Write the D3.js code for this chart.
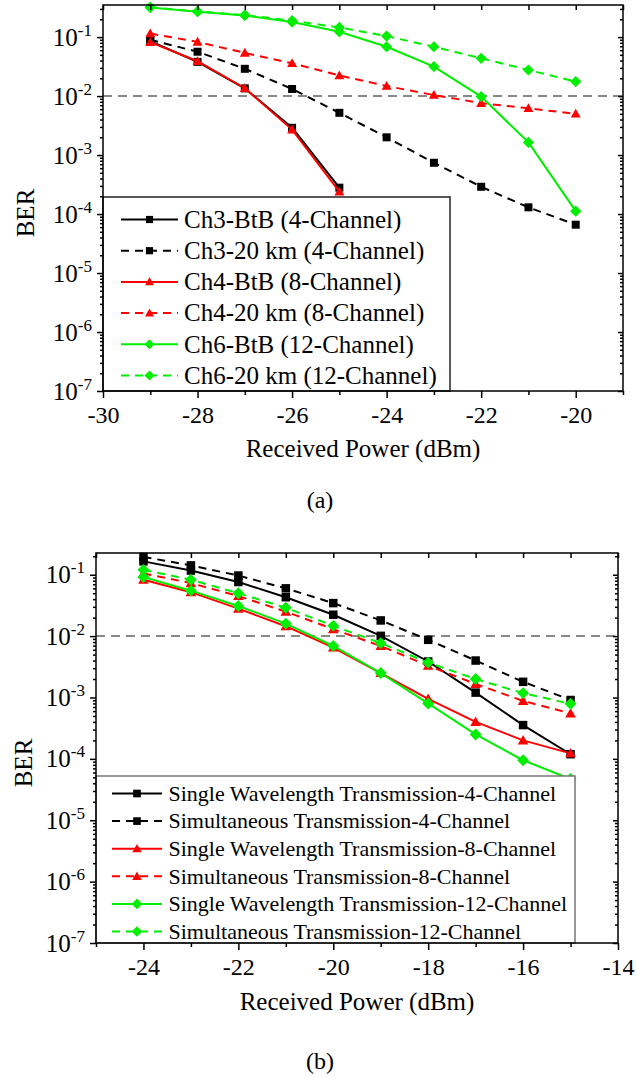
<!DOCTYPE html>
<html>
<head>
<meta charset="utf-8">
<style>
body{margin:0;background:#fff;}
svg{display:block;}
text{font-family:'Liberation Serif','Times New Roman','DejaVu Serif',serif;}
</style>
</head>
<body>
<script src="https://cdnjs.cloudflare.com/ajax/libs/d3/7.8.5/d3.min.js"></script>
<script>
// panel (a) data
var powerA = [-29,-28,-27,-26,-25,-24,-23,-22,-21,-20]
var ch3BtB = [0.085, 0.038, 0.0135, 0.0029, 0.00028]
var ch3Km  = [0.09, 0.0565, 0.029, 0.0132, 0.0052, 0.0020, 0.00074, 0.00029, 0.00013, 0.000066]
var ch4BtB = [0.082, 0.039, 0.0136, 0.0027, 0.00024]
var ch4Km  = [0.115, 0.083, 0.054, 0.036, 0.0224, 0.0148, 0.0104, 0.0076, 0.0062, 0.005]
var ch6BtB = [0.318, 0.27, 0.233, 0.18, 0.123, 0.0686, 0.0316, 0.0098, 0.00164, 0.000112]
var ch6Km  = [0.32, 0.272, 0.236, 0.19, 0.146, 0.104, 0.0686, 0.0437, 0.0277, 0.0176]
var labelsA = ['Ch3-BtB (4-Channel)','Ch3-20 km (4-Channel)','Ch4-BtB (8-Channel)',
  'Ch4-20 km (8-Channel)','Ch6-BtB (12-Channel)','Ch6-20 km (12-Channel)']
var xTicksA = [-30,-28,-26,-24,-22,-20]

// panel (b) data
var powerB = [-24,-23,-22,-21,-20,-19,-18,-17,-16,-15]
var single4  = [0.165, 0.117, 0.076, 0.043, 0.0223, 0.0101, 0.00386, 0.0012, 0.000355, 0.000119]
var simul4   = [0.195, 0.142, 0.097, 0.06, 0.0345, 0.018, 0.0087, 0.004, 0.0018, 0.00091]
var single8  = [0.083, 0.052, 0.028, 0.0145, 0.0065, 0.0025, 0.00095, 0.0004, 0.0002, 0.000123]
var simul8   = [0.105, 0.073, 0.045, 0.025, 0.013, 0.0069, 0.0033, 0.00166, 0.00088, 0.00055]
var single12 = [0.092, 0.055, 0.031, 0.016, 0.0069, 0.0025, 0.0008, 0.00025, 0.000095, 0.000047]
var simul12  = [0.12, 0.083, 0.05, 0.029, 0.0147, 0.0077, 0.0037, 0.002, 0.00118, 0.00079]
var labelsB = ['Single Wavelength Transmission-4-Channel','Simultaneous Transmission-4-Channel',
  'Single Wavelength Transmission-8-Channel','Simultaneous Transmission-8-Channel',
  'Single Wavelength Transmission-12-Channel','Simultaneous Transmission-12-Channel']
var xTicksB = [-24,-22,-20,-18,-16,-14]

var yDecades = [1e-7,1e-6,1e-5,1e-4,1e-3,1e-2,1e-1]
var fecLimit = 1e-2

var green = '#00ee00'
var styles = [
  {color:'#000', dash:null, shape:'square'},
  {color:'#000', dash:'8,6', shape:'square'},
  {color:'#ff0000', dash:null, shape:'triangle'},
  {color:'#ff0000', dash:'8,6', shape:'triangle'},
  {color:green, dash:null, shape:'diamond'},
  {color:green, dash:'8,6', shape:'diamond'}
]

var svg = d3.select('body').append('svg').attr('width',637).attr('height',1077)

function marker(shape, s) {
  if (shape == 'square') return 'M'+(-s/2)+','+(-s/2)+'h'+s+'v'+s+'h'+(-s)+'Z'
  if (shape == 'triangle') { var h = s*1.05; return 'M0,'+(-h*0.6)+'L'+(s*0.62)+','+(h*0.45)+'L'+(-s*0.62)+','+(h*0.45)+'Z' }
  var d = s*0.7
  return 'M0,'+(-d)+'L'+d+',0L0,'+d+'L'+(-d)+',0Z'
}

function drawPanel(p) {
  var g = svg.append('g')
  var x = d3.scaleLinear().domain(p.xDomain).range([p.left, p.right])
  var y = d3.scaleLog().domain([1e-7, p.yTop]).range([p.bottom, p.top])

  var minors = []
  yDecades.forEach(function(d){ for (var k=2;k<10;k++){ if (d*k < p.yTop) minors.push(d*k) } })
  var xAll = d3.range(Math.ceil(p.xDomain[0]), p.xDomain[1]+0.01, 1)
  var xMinor = xAll.filter(function(v){ return p.xTicks.indexOf(v) < 0 })

  // FEC limit line
  g.append('line').attr('x1',p.left).attr('x2',p.right)
    .attr('y1',y(fecLimit)).attr('y2',y(fecLimit))
    .attr('stroke','#888').attr('stroke-width',2).attr('stroke-dasharray','9,6')

  var line = d3.line().x(function(d){return x(d[0])}).y(function(d){return y(d[1])})
  p.series.forEach(function(vals, i) {
    var st = styles[i]
    var pts = vals.map(function(v,j){ return [p.power[j], v] })
    g.append('path').datum(pts).attr('d',line).attr('fill','none')
      .attr('stroke',st.color).attr('stroke-width',2).attr('stroke-dasharray',st.dash)
    g.selectAll(null).data(pts).enter().append('path')
      .attr('transform',function(d){ return 'translate('+x(d[0])+','+y(d[1])+')' })
      .attr('d',marker(st.shape, p.ms)).attr('fill',st.color)
  })

  // legend
  var lg = g.append('g')
  lg.append('rect').attr('x',p.leg.x).attr('y',p.leg.y).attr('width',p.leg.w).attr('height',p.leg.h)
    .attr('fill','#fff').attr('stroke',p.leg.stroke).attr('stroke-width',1.5)
  p.labels.forEach(function(t,i){
    var st = styles[i], ry = p.leg.row0 + i*p.leg.dy
    lg.append('line').attr('x1',p.leg.l1).attr('x2',p.leg.l2).attr('y1',ry).attr('y2',ry)
      .attr('stroke',st.color).attr('stroke-width',2).attr('stroke-dasharray',st.dash)
    lg.append('path').attr('transform','translate('+((p.leg.l1+p.leg.l2)/2)+','+ry+')')
      .attr('d',marker(st.shape, p.ms*0.9)).attr('fill',st.color)
    lg.append('text').attr('x',p.leg.tx).attr('y',ry+p.leg.fs*0.33).text(t)
      .style('font-size',p.leg.fs+'px')
  })

  // axes
  function clean(a){ a.select('.domain').remove(); a.selectAll('line').attr('stroke','#000').attr('stroke-width',1.5) }
  g.append('g').attr('transform','translate(0,'+p.bottom+')')
    .call(d3.axisBottom(x).tickValues(p.xTicks).tickSize(7).tickPadding(8).tickFormat(function(d){return String(d)}))
    .call(clean)
    .call(function(a){ a.attr('font-family',null); a.selectAll('text').style('font-size','24px').attr('fill','#000') })
  g.append('g').attr('transform','translate(0,'+p.bottom+')')
    .call(d3.axisBottom(x).tickValues(xMinor).tickSize(4).tickFormat('')).call(clean)
  g.append('g').attr('transform','translate(0,'+p.top+')')
    .call(d3.axisTop(x).tickValues(xAll).tickSize(-5).tickFormat('')).call(clean)
  g.append('g').attr('transform','translate('+p.left+',0)')
    .call(d3.axisLeft(y).tickValues(yDecades).tickSize(6).tickFormat('')).call(clean)
  g.append('g').attr('transform','translate('+p.left+',0)')
    .call(d3.axisLeft(y).tickValues(minors).tickSize(3).tickFormat('')).call(clean)
  g.append('g').attr('transform','translate('+p.right+',0)')
    .call(d3.axisRight(y).tickValues(yDecades).tickSize(-5).tickFormat('')).call(clean)
  g.append('g').attr('transform','translate('+p.right+',0)')
    .call(d3.axisRight(y).tickValues(minors).tickSize(-3).tickFormat('')).call(clean)

  yDecades.forEach(function(d){
    var t = g.append('text').attr('x',p.left-11).attr('y',y(d)+8.5).attr('text-anchor','end')
      .style('font-size','25px')
    t.append('tspan').text('10')
    t.append('tspan').attr('dy',-10).style('font-size','17px').text('-' + Math.round(-Math.log10(d)))
  })

  g.append('rect').attr('x',p.left).attr('y',p.top).attr('width',p.right-p.left).attr('height',p.bottom-p.top)
    .attr('fill','none').attr('stroke','#000').attr('stroke-width',1.5)

  g.append('text').attr('transform','translate('+p.yTitle[0]+','+p.yTitle[1]+') rotate(-90)')
    .attr('text-anchor','middle').attr('dy','0.33em').style('font-size','25px').text('BER')
  g.append('text').attr('x',(p.left+p.right)/2).attr('y',p.xTitleY).attr('text-anchor','middle')
    .style('font-size','25px').text('Received Power (dBm)')
  g.append('text').attr('x',320).attr('y',p.capY).attr('text-anchor','middle')
    .style('font-size','24px').text(p.caption)
}

drawPanel({
  left:103, right:623, top:5, bottom:391, xDomain:[-30,-19], yTop:0.35,
  xTicks:xTicksA, power:powerA, ms:8,
  series:[ch3BtB, ch3Km, ch4BtB, ch4Km, ch6BtB, ch6Km], labels:labelsA,
  leg:{x:103, y:197, w:347, h:194, row0:219.5, dy:31.2, l1:121, l2:178, tx:184, fs:25, stroke:'#222'},
  yTitle:[26,213], xTitleY:457, capY:508, caption:'(a)'
})
drawPanel({
  left:96, right:618, top:553, bottom:943, xDomain:[-25,-14], yTop:0.226,
  xTicks:xTicksB, power:powerB, ms:8.5,
  series:[single4, simul4, single8, simul8, single12, simul12], labels:labelsB,
  leg:{x:96, y:776, w:479, h:167, row0:793.5, dy:27.6, l1:112, l2:162, tx:168.5, fs:22, stroke:'#777'},
  yTitle:[24,763], xTitleY:1010, capY:1069, caption:'(b)'
})
</script>
</body>
</html>
